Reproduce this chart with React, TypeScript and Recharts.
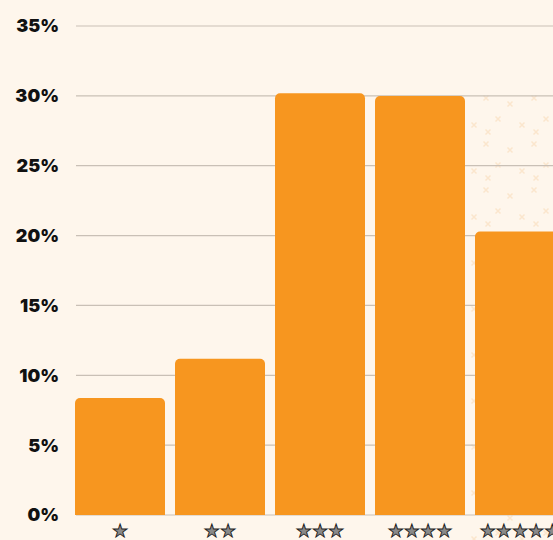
import React from "react";
import { BarChart, Bar, XAxis, YAxis, CartesianGrid } from "recharts";

const categories = ["★", "★★", "★★★", "★★★★", "★★★★★"];
const shares = [8.37, 11.18, 30.19, 29.99, 20.29];
const yTicks = [0, 5, 10, 15, 20, 25, 30, 35];

const data = categories.map((c, i) => ({ rating: c, share: shares[i] }));

const StarTick = (props: any) => {
  const { x, y, payload } = props;
  return (
    <text
      x={x}
      y={y}
      dy="0.71em"
      textAnchor="middle"
      fontFamily="DejaVu Sans"
      fontSize={18}
      fill="#8a8a8a"
      stroke="#1e1e1e"
      strokeWidth={0.9}
    >
      {payload.value}
    </text>
  );
};

const cross = (cx: number, cy: number) =>
  `M${cx - 2.5} ${cy - 2.5} L${cx + 2.5} ${cy + 2.5} M${cx + 2.5} ${cy - 2.5} L${cx - 2.5} ${cy + 2.5}`;

export default function App() {
  return (
    <div
      style={{
        position: "absolute",
        left: 0,
        top: 0,
        width: 553,
        height: 540,
        overflow: "hidden",
        background: "#FEF6EC",
      }}
    >
      <svg
        width={553}
        height={540}
        style={{ position: "absolute", left: 0, top: 0 }}
      >
        <defs>
          <pattern id="dots" width="48" height="46" patternUnits="userSpaceOnUse">
            <path
              d={[cross(6, 6), cross(30, 12), cross(18, 27), cross(42, 33), cross(8, 40)].join(" ")}
              stroke="#FADFC0"
              strokeWidth={1.5}
            />
          </pattern>
        </defs>
        <rect x={470} y={90} width={83} height={450} fill="url(#dots)" opacity={0.7} />
      </svg>
      <div style={{ position: "absolute", left: 0, top: 0 }}>
        <BarChart
          width={600}
          height={540}
          data={data}
          margin={{ top: 26, right: 30, bottom: 0, left: 0 }}
          barCategoryGap={5}
        >
          <CartesianGrid
            vertical={false}
            stroke="#C9C0B6"
            strokeWidth={1.2}
            x={76}
            width={520}
          />
          <XAxis
            dataKey="rating"
            axisLine={false}
            tickLine={false}
            tickSize={0}
            tickMargin={9}
            height={25}
            interval={0}
            tick={<StarTick />}
          />
          <YAxis
            domain={[0, 35]}
            ticks={yTicks}
            width={70}
            axisLine={false}
            tickLine={false}
            tickSize={0}
            tickMargin={11}
            tickFormatter={(v: number) => `${v}%`}
            tick={{
              fill: "#111",
              fontSize: 18,
              fontWeight: 900,
              fontFamily: "Inter",
            }}
          />
          <Bar
            dataKey="share"
            fill="#F7961F"
            radius={[5, 5, 0, 0]}
            isAnimationActive={false}
          />
        </BarChart>
      </div>
    </div>
  );
}
